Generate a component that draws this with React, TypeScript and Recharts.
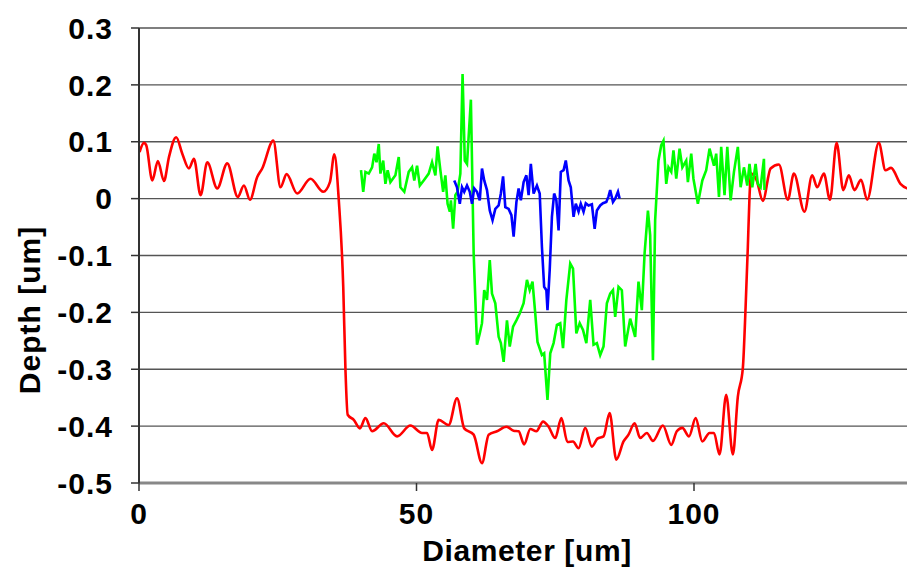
import React from "react";
import { CartesianGrid, Line, LineChart, XAxis, YAxis } from "recharts";

// red profile (full scan)
const redX = [
  0.1, 0.9, 1.3, 2.4, 3.4, 4.5, 5.4, 6.7, 7.8, 9.0, 9.9, 11.1, 12.3, 14.1, 15.9, 17.8, 18.9, 20.0,
  21.3, 22.2, 24.2, 25.5, 26.6, 28.5, 30.9, 33.2, 34.4, 35.2, 36.0, 36.8, 37.2, 37.6, 38.7, 39.8,
  40.8, 42.0, 44.1, 46.5, 48.9, 51.0, 51.9, 52.8, 54.0, 55.8, 57.3, 58.6, 60.3, 61.8, 63.0, 64.5,
  66.2, 67.5, 68.4, 69.4, 70.5, 71.6, 72.8, 73.8, 75.0, 76.1, 77.2, 78.2, 79.2, 80.4, 81.6, 82.6,
  83.7, 84.8, 86.0, 87.3, 88.2, 89.3, 90.3, 91.5, 92.6, 94.4, 95.9, 96.9, 97.9, 99.1, 100.3, 101.5,
  102.8, 103.6, 104.6, 105.8, 107.0, 107.9, 108.8, 109.3, 109.7, 110.0, 110.3, 111.3, 112.4, 113.8,
  115.3, 116.9, 118.0, 119.9, 121.3, 122.2, 123.4, 124.5, 125.7, 126.9, 127.9, 128.9, 130.1, 131.2,
  133.3, 134.5, 135.5, 137.2, 138.4, 140,
];
const redY = [
  0.082, 0.098, 0.094, 0.032, 0.066, 0.031, 0.073, 0.108, 0.079, 0.053, 0.07, 0.006, 0.064, 0.018,
  0.062, 0.003, 0.023, -0.002, 0.038, 0.053, 0.102, 0.02, 0.043, 0.009, 0.035, 0.012, 0.029, 0.078,
  -0.003, -0.155, -0.301, -0.38, -0.389, -0.404, -0.386, -0.409, -0.395, -0.418, -0.399, -0.412,
  -0.412, -0.442, -0.389, -0.398, -0.351, -0.404, -0.415, -0.465, -0.415, -0.409, -0.401, -0.408,
  -0.409, -0.432, -0.405, -0.409, -0.392, -0.401, -0.421, -0.386, -0.428, -0.427, -0.439, -0.403,
  -0.436, -0.422, -0.418, -0.377, -0.459, -0.427, -0.415, -0.395, -0.421, -0.412, -0.426, -0.399,
  -0.433, -0.409, -0.403, -0.418, -0.386, -0.427, -0.412, -0.412, -0.45, -0.345, -0.45, -0.348,
  -0.298, -0.19, -0.085, 0.003, 0.044, 0.032, -0.004, 0.053, 0.06, -0.002, 0.044, -0.023, 0.041,
  0.02, 0.044, -0.002, 0.098, 0.015, 0.041, 0.015, 0.033, -0.002, 0.098, 0.05, 0.054, 0.026, 0.018,
  0.015,
];

// green profile
const greenX = [
  40.0, 40.4, 40.8, 41.4, 42.0, 42.4, 42.8, 43.2, 43.5, 44.0, 44.4, 44.8, 45.3, 46.2, 46.8, 47.1,
  47.8, 48.6, 49.2, 49.6, 50.1, 50.6, 51.3, 52.2, 52.8, 53.4, 53.8, 54.3, 54.8, 55.2, 55.6, 56.0,
  56.2, 56.6, 57.0, 57.4, 57.9, 58.3, 58.7, 59.1, 59.8, 60.3, 60.9, 61.4, 61.8, 62.2, 62.7, 63.2,
  63.6, 64.2, 64.8, 65.2, 65.7, 66.3, 66.8, 67.4, 68.0, 68.6, 69.3, 69.9, 70.4, 70.9, 71.4, 71.8,
  72.6, 73.0, 73.6, 74.1, 74.7, 75.3, 75.9, 76.4, 77.0, 77.7, 78.2, 78.8, 79.4, 80.0, 80.6, 81.3,
  81.9, 82.5, 83.1, 83.7, 84.3, 84.9, 85.4, 85.8, 86.4, 87.0, 87.6, 88.5, 89.4, 90.0, 90.6, 91.1,
  91.7, 92.1, 92.6, 93.0, 93.6, 94.1, 94.5, 95.0, 95.4, 95.9, 96.3, 96.8, 97.4, 97.9, 98.6, 98.9,
  99.5, 99.9, 100.7, 101.5, 102.2, 102.8, 103.6, 104.0, 104.5, 104.9, 105.5, 106.0, 106.6, 107.2,
  107.9, 108.4, 109.0, 109.6, 110.0, 110.5, 111.1, 111.5, 112.0, 112.6, 112.7,
];
const greenY = [
  0.05, 0.012, 0.047, 0.044, 0.055, 0.079, 0.064, 0.096, 0.044, 0.067, 0.026, 0.05, 0.029, 0.041,
  0.073, 0.02, 0.012, 0.047, 0.055, 0.032, 0.058, 0.023, 0.032, 0.044, 0.064, 0.041, 0.092, 0.05,
  0.012, 0.041, -0.009, -0.023, -0.003, -0.053, 0.006, 0.012, 0.044, 0.219, 0.067, 0.061, 0.174,
  -0.096, -0.257, -0.237, -0.219, -0.161, -0.178, -0.108, -0.167, -0.184, -0.243, -0.254, -0.287,
  -0.214, -0.26, -0.225, -0.214, -0.202, -0.184, -0.143, -0.161, -0.146, -0.202, -0.252, -0.275,
  -0.272, -0.354, -0.272, -0.254, -0.222, -0.219, -0.263, -0.178, -0.114, -0.123, -0.237, -0.219,
  -0.231, -0.254, -0.178, -0.257, -0.254, -0.275, -0.26, -0.184, -0.167, -0.161, -0.208, -0.155,
  -0.161, -0.26, -0.211, -0.243, -0.146, -0.196, -0.096, -0.021, -0.064, -0.284, -0.038, 0.067,
  0.094, 0.102, 0.026, 0.055, 0.047, 0.085, 0.035, 0.088, 0.055, 0.067, 0.029, 0.079, 0.035,
  -0.009, 0.032, 0.05, 0.088, 0.058, 0.079, 0.003, 0.091, 0.006, 0.091, -0.003, 0.047, 0.091, 0.02,
  0.055, 0.023, 0.061, 0.02, 0.061, 0.026, 0.02, 0.07, 0.015,
];

// blue profile
const blueX = [
  56.8, 57.3, 57.8, 58.2, 58.6, 59.1, 59.6, 60.0, 60.4, 60.9, 61.4, 61.8, 62.2, 62.7, 63.2, 63.7,
  64.2, 64.8, 65.2, 65.6, 66.0, 66.6, 67.1, 67.5, 68.0, 68.4, 68.8, 69.3, 69.8, 70.2, 70.6, 71.1,
  71.7, 72.2, 72.6, 73.0, 73.4, 73.6, 74.0, 74.4, 74.8, 75.2, 75.6, 76.0, 76.5, 76.9, 77.4, 77.8,
  78.3, 78.7, 79.2, 79.6, 80.1, 80.5, 81.0, 81.6, 82.1, 82.5, 83.1, 83.6, 84.2, 84.6, 84.9, 85.4,
  85.8, 86.3, 86.6,
];
const blueY = [
  0.032, 0.02, -0.009, 0.02, 0.012, 0.023, 0.012, -0.009, 0.018, 0.012, -0.003, 0.053, 0.032,
  0.015, -0.021, -0.038, -0.018, -0.012, 0.009, 0.039, -0.015, -0.018, -0.029, -0.067, -0.006,
  0.018, -0.003, 0.029, 0.041, 0.006, 0.061, 0.009, 0.023, 0.009, -0.085, -0.155, -0.161, -0.196,
  -0.126, -0.032, 0.009, -0.003, -0.056, 0.047, 0.05, 0.067, 0.032, 0.02, -0.032, -0.009, -0.023,
  -0.009, -0.023, -0.008, -0.012, -0.01, -0.053, -0.021, -0.012, -0.008, -0.006, 0.004, 0.015,
  -0.006, 0.0, 0.012, 0.0,
];

const yTicks = [-0.5, -0.4, -0.3, -0.2, -0.1, 0, 0.1, 0.2, 0.3];
const xTicks = [0, 50, 100];

const toPoints = (xs: number[], ys: number[]) => xs.map((x, i) => ({ x, y: ys[i] }));

const font = "Arial, 'Liberation Sans', sans-serif";

export default function App() {
  const red = toPoints(redX, redY);
  const green = toPoints(greenX, greenY);
  const blue = toPoints(blueX, blueY);

  const tickStyle = {
    fontFamily: font,
    fontSize: 30,
    fontWeight: "bold",
    letterSpacing: 1,
    fill: "#000",
  };

  return (
    <div
      style={{
        position: "fixed",
        left: 0,
        top: 0,
        width: 907,
        height: 571,
        overflow: "hidden",
        background: "#fff",
      }}
    >
      <LineChart width={916} height={571} margin={{ top: 28, right: 0, bottom: 0, left: 0 }}>
        <CartesianGrid horizontal vertical={false} stroke="#555" strokeWidth={1.4} />
        <XAxis
          type="number"
          dataKey="x"
          domain={[0, 140]}
          ticks={xTicks}
          height={88}
          tickSize={8}
          tickMargin={12}
          axisLine={{ stroke: "#888", strokeWidth: 3 }}
          tickLine={{ stroke: "#333", strokeWidth: 1.5 }}
          tick={tickStyle}
          label={{
            content: () => (
              <text
                x={527}
                y={561}
                textAnchor="middle"
                fontFamily={font}
                fontSize={30}
                fontWeight="bold"
                letterSpacing={0.6}
                fill="#000"
              >
                Diameter [um]
              </text>
            ),
          }}
        />
        <YAxis
          type="number"
          dataKey="y"
          domain={[-0.5, 0.3]}
          ticks={yTicks}
          width={139}
          tickSize={8}
          tickMargin={18}
          interval={0}
          allowDataOverflow
          axisLine={{ stroke: "#333", strokeWidth: 2 }}
          tickLine={{ stroke: "#333", strokeWidth: 1.5 }}
          tick={tickStyle}
          tickFormatter={(v: number) => (v === 0 ? "0" : v.toFixed(1))}
          label={{
            content: () => (
              <text
                x={40}
                y={310}
                transform="rotate(-90, 40, 310)"
                textAnchor="middle"
                fontFamily={font}
                fontSize={30}
                fontWeight="bold"
                letterSpacing={1}
                fill="#000"
              >
                Depth [um]
              </text>
            ),
          }}
        />
        <Line
          data={red}
          dataKey="y"
          type="monotone"
          stroke="#ff0000"
          strokeWidth={2.6}
          dot={false}
          isAnimationActive={false}
        />
        <Line
          data={green}
          dataKey="y"
          type="linear"
          stroke="#00ff00"
          strokeWidth={2.6}
          dot={false}
          isAnimationActive={false}
        />
        <Line
          data={blue}
          dataKey="y"
          type="linear"
          stroke="#0000ff"
          strokeWidth={2.6}
          dot={false}
          isAnimationActive={false}
        />
      </LineChart>
    </div>
  );
}
